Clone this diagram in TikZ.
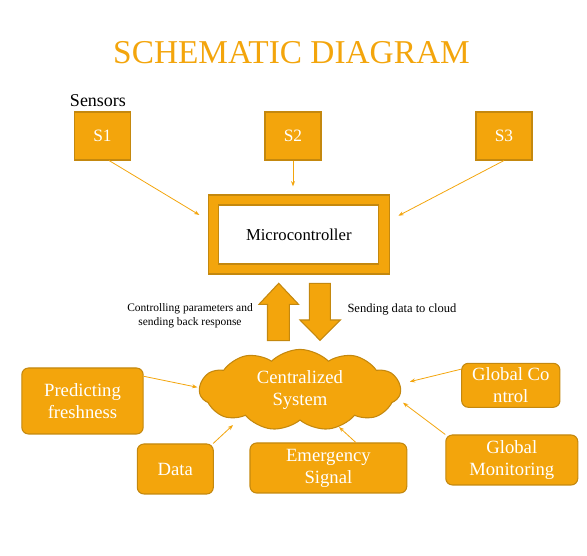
\documentclass[tikz,border=0pt]{standalone}
\usepackage{fontspec}
\setmainfont{Liberation Serif}
\usepackage{xcolor}
\usepackage{tikz}
\usetikzlibrary{shapes.symbols,arrows.meta,calc}

\definecolor{amber}{RGB}{243,165,12}
\definecolor{amberdark}{RGB}{196,136,14}

\tikzset{
  sensorbox/.style={draw=amberdark, fill=amber, line width=0.8pt, text=white, font=\fontsize{13}{15}\selectfont, minimum width=42pt, minimum height=36pt, inner sep=0pt},
  roundbox/.style={draw=amberdark, fill=amber, line width=0.8pt, rounded corners=5pt, text=white, align=center, font=\fontsize{14}{16.5}\selectfont, inner sep=0pt},
  link/.style={amber, line width=0.6pt, -{Stealth[length=4pt,width=3pt]}},
  blockarrow/.style={draw=amberdark, fill=amber, line width=0.8pt, line join=miter}
}

\begin{document}
\begin{tikzpicture}[x=0.75pt,y=-0.75pt]
\useasboundingbox (0,0) rectangle (587,556);
\node[anchor=base, text=amber, font=\fontsize{25}{30}\selectfont] (Title) at (291.5,64) {SCHEMATIC DIAGRAM};
\node[anchor=base, font=\fontsize{13.5}{16}\selectfont] (Sensors) at (98,106.5) {Sensors};
\node[sensorbox] (s1) at (102.5,136) {S1};
\node[sensorbox] (s2) at (293,136) {S2};
\node[sensorbox] (s3) at (504,136) {S3};
\node[draw=amberdark, fill=amber, line width=0.9pt, minimum width=135.75pt, minimum height=59.25pt] (micro) at (299,234.5) {};
\node[draw=amberdark, fill=white, line width=0.9pt, minimum width=120pt, minimum height=44.25pt, font=\fontsize{12.5}{15}\selectfont] (mc) at (298.8,234.5) {Microcontroller};
\draw[link, shorten >=7.5pt] (s1.285) -- (micro.171);
\draw[link, shorten >=6pt] (s2.south) -- (s2.south |- micro.north);
\draw[link, shorten >=7pt] (s3.south) -- (micro.9.5);
\draw[blockarrow] (278.7,283.3) -- (298.5,304.3) -- (289.3,304.3) -- (289.3,340.7) -- (267.5,340.7) -- (267.5,304.3) -- (259,304.3) -- cycle;
\draw[blockarrow] (309.3,283.3) -- (330.3,283.3) -- (330.3,320) -- (340.3,320) -- (320,340.3) -- (300,320) -- (309.3,320) -- cycle;
\node[align=center, font=\fontsize{8.6}{10.8}\selectfont] (Up) at (190,315.5) {Controlling parameters and\\sending back response};
\node[font=\fontsize{9.4}{11}\selectfont] (Down) at (402,309.5) {Sending data to cloud};
\node[cloud, cloud puffs=11, cloud puff arc=90, cloud ignores aspect, draw=amberdark, fill=amber, line width=0.8pt, minimum width=150.75pt, minimum height=55.5pt, text=white, align=center, font=\fontsize{14}{16.8}\selectfont] (central) at (300,390) {Centralized\\System};
\node[roundbox, minimum width=91pt, minimum height=49.5pt] (pred) at (82.5,401) {Predicting\\freshness};
\node[roundbox, minimum width=57pt, minimum height=37.5pt] (data) at (175.3,469) {Data};
\node[roundbox, minimum width=117.6pt, minimum height=37.5pt] (emerg) at (328.4,468) {Emergency\\Signal};
\node[roundbox, minimum width=73.7pt, minimum height=33pt] (gctrl) at (510.8,385.3) {Global Co\\ntrol};
\node[roundbox, minimum width=99pt, minimum height=37.5pt] (gmon) at (511.8,460) {Global\\Monitoring};
\draw[link] (pred.22.5) -- ($(central)+(-102.6,-2.7)$);
\draw[link] (data.34) -- ($(central)+(-67,35)$);
\draw[link] (emerg.43) -- ($(central)+(39,37)$);
\draw[link] (gctrl.162) -- ($(central)+(109.8,-8.3)$);
\draw[link] (gmon.159) -- ($(central)+(103,12.7)$);
\end{tikzpicture}
\end{document}
